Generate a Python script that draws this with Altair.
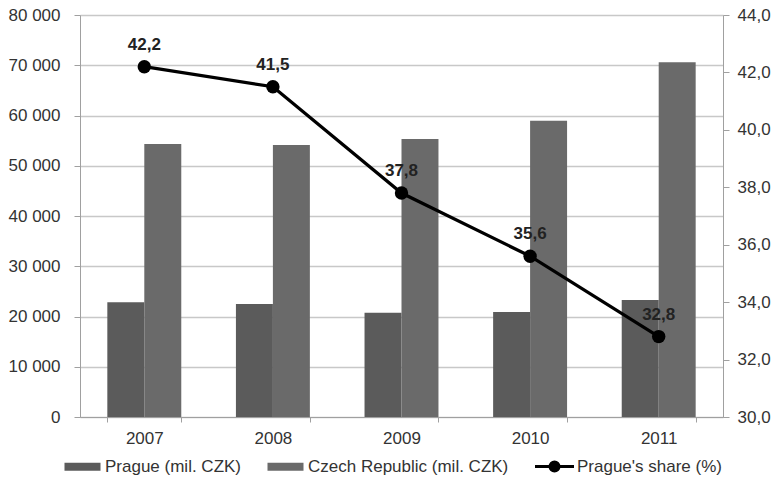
import altair as alt
import pandas as pd

years = ["2007", "2008", "2009", "2010", "2011"]
prague = [22830, 22490, 20760, 20900, 23280]
czech = [54330, 54130, 55300, 58970, 70590]
share = [42.2, 41.5, 37.8, 35.6, 32.8]

bar_names = ["Prague (mil. CZK)", "Czech Republic (mil. CZK)"]
bar_colors = ["#5b5b5b", "#6a6a6a"]
line_name = "Prague's share (%)"
left_ticks = [0, 10000, 20000, 30000, 40000, 50000, 60000, 70000, 80000]
right_ticks = [30, 32, 34, 36, 38, 40, 42, 44]

bar_df = pd.DataFrame(
    [{"year": y, "series": bar_names[0], "value": v} for y, v in zip(years, prague)]
    + [{"year": y, "series": bar_names[1], "value": v} for y, v in zip(years, czech)]
)
share_df = pd.DataFrame({"year": years, "share": share, "series": line_name})

FONT = "Liberation Sans"

bar_path = "M-3,-0.65H3V0.65H-3Z"
line_path = "M-3.25,0H3.25M0.75,0A0.75,0.75,0,1,1,-0.75,0A0.75,0.75,0,1,1,0.75,0"

common_legend = dict(
    title=None,
    orient="none",
    direction="horizontal",
    labelFont=FONT,
    labelFontSize=17,
    labelColor="#333333",
    labelLimit=400,
    symbolSize=144,
    labelOffset=14,
    columnPadding=25,
    symbolOpacity=1,
)

bar_legend = alt.Legend(legendX=-6, legendY=443, symbolType=bar_path, symbolStrokeWidth=0, **common_legend)
line_legend = alt.Legend(
    legendX=466,
    legendY=443,
    symbolType=line_path,
    symbolStrokeWidth=3,
    symbolFillColor="#000000",
    symbolStrokeColor="#000000",
    **common_legend,
)

x_enc = alt.X(
    "year:N",
    sort=years,
    scale=alt.Scale(paddingInner=0.425, paddingOuter=0.2125),
    axis=alt.Axis(
        title=None,
        labelAngle=0,
        tickBand="extent",
        tickSize=5,
        tickColor="#a0a0a0",
        domainColor="#a0a0a0",
        labelPadding=8,
        labelFont=FONT,
        labelFontSize=17,
        labelColor="#333333",
        grid=False,
    ),
)

bars = alt.Chart(bar_df).mark_bar().encode(
    x=x_enc,
    xOffset=alt.XOffset("series:N", sort=bar_names, scale=alt.Scale(paddingInner=0, paddingOuter=0)),
    y=alt.Y(
        "value:Q",
        scale=alt.Scale(domain=[0, 80000], nice=False),
        axis=alt.Axis(
            title=None,
            values=left_ticks,
            format=",.0f",
            orient="left",
            grid=True,
            gridColor="#c8c8c8",
            gridWidth=1.3,
            domainColor="#a0a0a0",
            tickColor="#a0a0a0",
            tickSize=6,
            labelPadding=14,
            labelFont=FONT,
            labelFontSize=17,
            labelColor="#333333",
        ),
    ),
    color=alt.Color("series:N", scale=alt.Scale(domain=bar_names, range=bar_colors), legend=bar_legend),
)

line_base = alt.Chart(share_df).encode(
    x=alt.X("year:N", sort=years),
    y=alt.Y(
        "share:Q",
        scale=alt.Scale(domain=[30, 44], nice=False, zero=False),
        axis=alt.Axis(
            title=None,
            values=right_ticks,
            format=".1f",
            orient="right",
            grid=False,
            domainColor="#a0a0a0",
            tickColor="#a0a0a0",
            tickSize=6,
            labelPadding=8,
            labelFont=FONT,
            labelFontSize=17,
            labelColor="#333333",
        ),
    ),
)

line = line_base.mark_line(strokeWidth=3.2).encode(
    stroke=alt.Stroke("series:N", scale=alt.Scale(domain=[line_name], range=["#000000"]), legend=line_legend)
)
pts = line_base.mark_point(filled=True, size=180, opacity=1, color="#000000")
txt = line_base.mark_text(
    font=FONT, fontSize=17, fontWeight="bold", dy=-17, baseline="alphabetic", color="#222222"
).encode(text=alt.Text("share:Q", format=".1f"))

right = alt.layer(line, pts, txt)

chart = (
    alt.layer(bars, right)
    .resolve_scale(y="independent")
    .properties(
        width=643,
        height=402,
        autosize=alt.AutoSizeParams(type="none"),
        padding={"left": 80, "top": 15, "right": 55, "bottom": 70},
        background="white",
    )
    .configure_view(strokeWidth=0)
    .configure(
        locale={"number": {"decimal": ",", "thousands": " ", "grouping": [3], "currency": ["", ""]}}
    )
)

chart.save("out.html", embed_options={"renderer": "svg", "actions": False})
